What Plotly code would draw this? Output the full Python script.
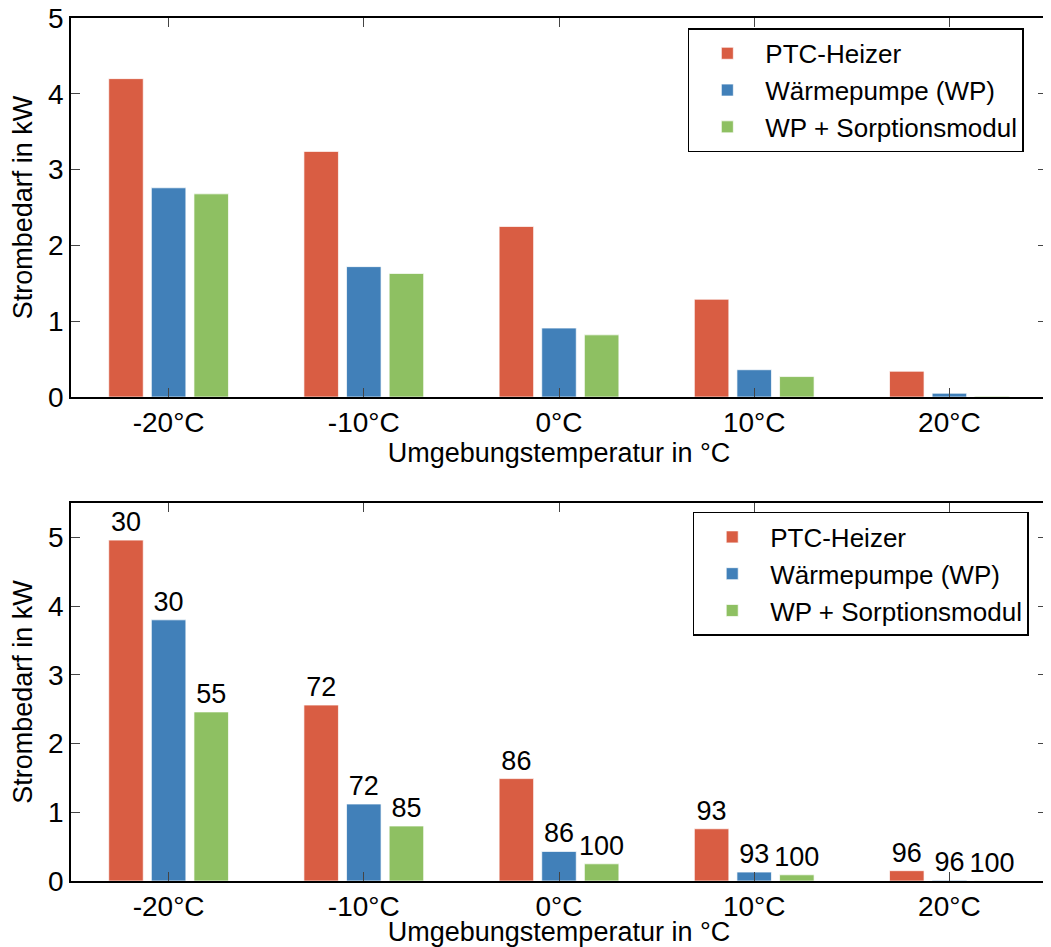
import plotly.graph_objects as go
from plotly.subplots import make_subplots

categories = ["-20°C", "-10°C", "0°C", "10°C", "20°C"]
series_names = ["PTC-Heizer", "Wärmepumpe (WP)", "WP + Sorptionsmodul"]
colors = ["#D95D43", "#4180B9", "#8EC062"]

# Top chart: Strombedarf in kW
top_ptc = [4.20, 3.24, 2.25, 1.29, 0.34]
top_wp = [2.76, 1.72, 0.91, 0.36, 0.05]
top_sorp = [2.68, 1.63, 0.82, 0.27, 0.01]

# Bottom chart: Strombedarf in kW with percentage labels
bot_ptc = [4.96, 2.56, 1.49, 0.76, 0.15]
bot_wp = [3.80, 1.12, 0.43, 0.13, 0.01]
bot_sorp = [2.46, 0.80, 0.25, 0.09, 0.005]
lab_ptc = ["30", "72", "86", "93", "96"]
lab_wp = ["30", "72", "86", "93", "96"]
lab_sorp = ["55", "85", "100", "100", "100"]

FONT = "Liberation Sans, Arial, sans-serif"

fig = make_subplots(rows=2, cols=1, vertical_spacing=0.12)

top_series = [top_ptc, top_wp, top_sorp]
bot_series = [bot_ptc, bot_wp, bot_sorp]
bot_labels = [lab_ptc, lab_wp, lab_sorp]

for name, vals, col in zip(series_names, top_series, colors):
    fig.add_trace(go.Bar(x=categories, y=vals, name=name, marker_color=col,
                         marker_line=dict(color="rgba(255,255,255,0.7)", width=1),
                         legend="legend"), row=1, col=1)

for name, vals, labs, col in zip(series_names, bot_series, bot_labels, colors):
    fig.add_trace(go.Bar(x=categories, y=vals, name=name, marker_color=col,
                         marker_line=dict(color="rgba(255,255,255,0.7)", width=1),
                         text=labs, textposition="outside", cliponaxis=False,
                         constraintext="none",
                         textfont=dict(size=27, color="black", family=FONT),
                         legend="legend2"), row=2, col=1)

axis_common = dict(showline=True, linecolor="black", linewidth=1.5, mirror="ticks",
                   ticks="inside", ticklen=9, tickcolor="#444", tickwidth=1,
                   showgrid=False, zeroline=False, automargin=False,
                   ticklabeloverflow="allow",
                   tickfont=dict(size=28, color="black", family=FONT))

fig.update_xaxes(**axis_common, range=[-0.5, 4.5])
fig.update_yaxes(**axis_common, dtick=1)
fig.update_yaxes(range=[0, 5], domain=[0.5608, 1.0], row=1, col=1)
fig.update_yaxes(range=[0, 5.5], domain=[0.0, 0.438], row=2, col=1)

title_font = dict(size=27, color="black", family=FONT)
for r in (1, 2):
    fig.update_xaxes(title=dict(text="Umgebungstemperatur in °C", font=title_font, standoff=2), row=r, col=1)
    fig.update_yaxes(title=dict(text="Strombedarf in kW", font=title_font, standoff=8), row=r, col=1)

legend_common = dict(bgcolor="white", bordercolor="black", borderwidth=1.5,
                     font=dict(size=26, color="black", family=FONT),
                     xanchor="left", yanchor="top", itemwidth=66,
                     tracegroupgap=0)

fig.update_layout(
    width=1043, height=939,
    margin=dict(l=63, r=4, t=10, b=66),
    paper_bgcolor="white", plot_bgcolor="white",
    barmode="group", bargap=0.345, bargroupgap=0.19,
    font=dict(family=FONT, color="black"),
    legend=dict(**legend_common, x=0.632, y=0.988),
    legend2=dict(**legend_common, x=0.637, y=0.4276),
)

fig.write_html("out.html")
